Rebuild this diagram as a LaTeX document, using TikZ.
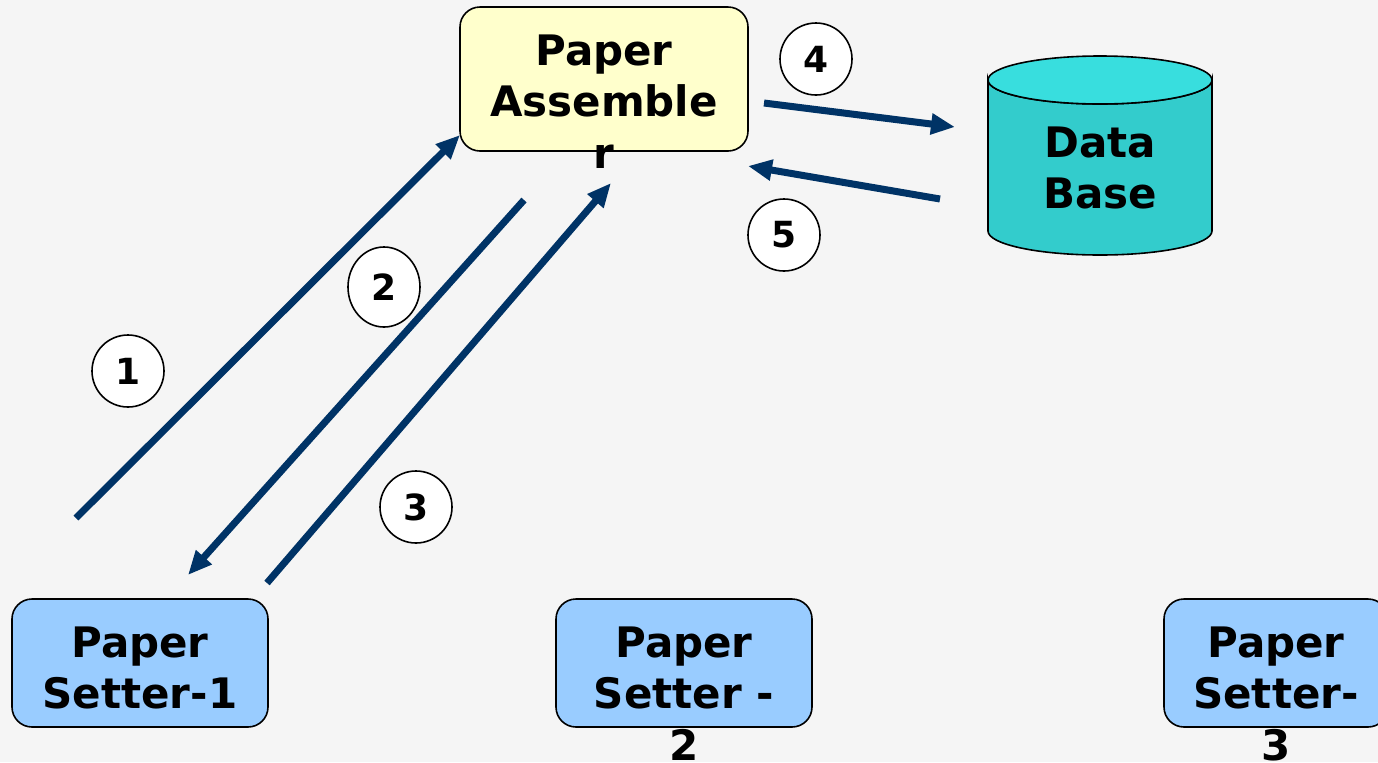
\documentclass[tikz,border=0pt]{standalone}
\usepackage{fontspec}
\setmainfont{DejaVu Sans}
\usepackage{tikz}
\usetikzlibrary{positioning, arrows.meta, shapes.geometric}
\definecolor{pagebg}{HTML}{F5F5F5}
\definecolor{asmyellow}{HTML}{FFFFCC}
\definecolor{setterblue}{HTML}{99CCFF}
\definecolor{dbteal}{HTML}{33CCCC}
\definecolor{dbcap}{HTML}{38DEDE}
\definecolor{flownavy}{HTML}{003366}

\tikzset{
  boxnode/.style={draw=black, line width=0.8pt, rounded corners=10pt,
                  minimum width=128pt, minimum height=64pt, inner sep=0pt},
  boxtext/.style={font=\bfseries\fontsize{21}{25.8}\selectfont, align=center,
                  inner sep=0pt, anchor=north},
  flow/.style={draw=flownavy, line width=3.5pt, -{Triangle[length=12pt,width=10pt]}},
  stepnum/.style={circle, draw=black, fill=white, line width=0.8pt,
                  minimum size=36pt, inner sep=0pt, font=\bfseries\fontsize{18}{18}\selectfont}
}

\begin{document}
\begin{tikzpicture}[x=0.5pt, y=-0.5pt]
    % page
    \fill[pagebg] (0,0) rectangle (1378,762);
    \useasboundingbox (0,0) rectangle (1378,762);

    % assembler box
    \node[boxnode, fill=asmyellow, minimum width=144pt, minimum height=72pt] (asm) at (604,79) {};
    \node[boxtext] (asmtext) at ([yshift=-14pt]asm.north) {Paper\\Assemble\\r};

    % setters
    \node[boxnode, fill=setterblue] (ps1) at (140,663) {};
    \node[boxnode, fill=setterblue] (ps2) at (684,663) {};
    \node[boxnode, fill=setterblue, minimum width=112pt] (ps3) at (1276,663) {};
    \node[boxtext] (ps1text) at ([yshift=-14pt]ps1.north) {Paper\\Setter-1};
    \node[boxtext] (ps2text) at ([yshift=-14pt]ps2.north) {Paper\\Setter -\\2};
    \node[boxtext] (ps3text) at ([yshift=-14pt]ps3.north) {Paper\\Setter-\\3};

    % data base
    \coordinate (dbc) at (1100,80);
    \filldraw[fill=dbteal, draw=black, line width=0.8pt]
      (988,231) arc (180:0:112 and 24) -- (1212,80) arc (0:180:112 and 24) -- cycle;
    \filldraw[fill=dbcap, draw=black, line width=0.8pt] (dbc) ellipse (112 and 24);
    \node[boxtext] (db) at (1100,126) {Data\\Base};

    % flows
    \coordinate (f1a) at (76,518);   \coordinate (f1b) at (460,135);
    \coordinate (f2a) at (524,200);  \coordinate (f2b) at (188,575);
    \coordinate (f3a) at (267,583);  \coordinate (f3b) at (611,183);
    \coordinate (f4a) at (764,103);  \coordinate (f4b) at (955,127);
    \coordinate (f5a) at (940,199);  \coordinate (f5b) at (748,166);
    \draw[flow] (f1a) -- (f1b);
    \draw[flow] (f2a) -- (f2b);
    \draw[flow] (f3a) -- (f3b);
    \draw[flow] (f4a) -- (f4b);
    \draw[flow] (f5a) -- (f5b);

    % step numbers
    \node[stepnum] (n1) at (128,371) {1};
    \node[stepnum, ellipse, minimum width=36pt, minimum height=40pt] (n2) at (384,287) {2};
    \node[stepnum] (n3) at (416,507) {3};
    \node[stepnum] (n4) at (816,59) {4};
    \node[stepnum] (n5) at (784,235) {5};
\end{tikzpicture}
\end{document}
